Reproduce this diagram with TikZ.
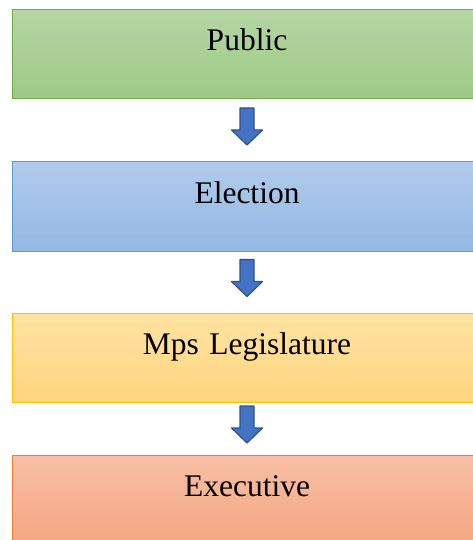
\documentclass[tikz,border=0pt]{standalone}
\usepackage{fontspec}
\setmainfont{Liberation Serif}
\usetikzlibrary{calc}

\definecolor{grnline}{HTML}{70AD47}
\definecolor{grntop}{HTML}{B5D6A4}
\definecolor{grnbot}{HTML}{9ECA84}
\definecolor{bluline}{HTML}{5B9BD5}
\definecolor{blutop}{HTML}{B1CBEB}
\definecolor{blubot}{HTML}{93B8E3}
\definecolor{yelline}{HTML}{FFC000}
\definecolor{yeltop}{HTML}{FFE3A3}
\definecolor{yelbot}{HTML}{FFD57F}
\definecolor{oraline}{HTML}{ED7D31}
\definecolor{oratop}{HTML}{F7C0A6}
\definecolor{orabot}{HTML}{F4A681}
\definecolor{arrfill}{HTML}{4472C4}
\definecolor{arrline}{HTML}{2F528F}

\tikzset{
    box/.style={rectangle, draw=#1line, line width=1pt, top color=#1top, bottom color=#1bot,
        inner sep=0pt, text width=470pt, align=center, text height=41pt, text depth=48pt,
        font=\fontsize{31.5}{36}\selectfont},
    blkarrow/.style={fill=arrfill, draw=arrline, line width=1.2pt, line join=round}
}

\begin{document}
\begin{tikzpicture}[x=1pt, y=-1pt]
    \clip (0,0) rectangle (473,540);
    \fill[white] (0,0) rectangle (473,540);

    % the four stages, top to bottom
    \node[box=grn] (public)   at (247,54.5)  {Public};
    \node[box=blu] (election) at (247,206.5) {Election};
    \node[box=yel] (mps)      at (247,357.5) {Mps Legislature};
    \node[box=ora] (exec)     at (247,499.5) {Executive};

    % block arrows between the stages
    \foreach \up/\dn in {public/election, election/mps, mps/exec} {
        \draw[blkarrow] ($(\up.south)!0.5!(\dn.north)+(0,-4)$) ++(-7,-18.5)
            -- ++(14,0) -- ++(0,22) -- ++(8.5,0) -- ++(-15.5,15)
            -- ++(-15.5,-15) -- ++(8.5,0) -- cycle;
    }
\end{tikzpicture}
\end{document}
